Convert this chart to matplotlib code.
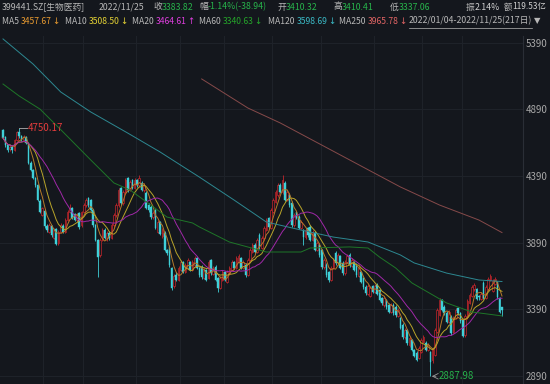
import numpy as np
import pandas as pd
import matplotlib
matplotlib.use("Agg")
import matplotlib.pyplot as plt
from matplotlib.lines import Line2D

plt.rcParams['font.family'] = ['Noto Sans CJK SC', 'DejaVu Sans']

# daily OHLC, 399441.SZ 2022/01/04 - 2022/11/25 (217 days)
opens = [4735, 4680, 4620, 4590, 4605, 4585, 4660, 4718, 4690, 4660,
         4680, 4638, 4490, 4435, 4375, 4320, 4205, 4100, 4130, 4015,
         3970, 4015, 3925, 3990, 3888, 3970, 4015, 3970, 4060, 4120,
         4150, 4105, 4060, 4112, 4022, 4120, 4172, 4225, 4210, 4135,
         4022, 3910, 3798, 3910, 3985, 3925, 3962, 3925, 4022, 4098,
         4172, 4300, 4188, 4270, 4375, 4285, 4360, 4300, 4360, 4322,
         4337, 4285, 4262, 4172, 4157, 4082, 4135, 3970, 4045, 3940,
         3962, 3835, 3857, 3700, 3565, 3648, 3610, 3685, 3745, 3670,
         3700, 3745, 3685, 3722, 3775, 3700, 3708, 3625, 3685, 3625,
         3760, 3655, 3708, 3625, 3550, 3610, 3670, 3595, 3655, 3685,
         3745, 3700, 3745, 3775, 3700, 3722, 3648, 3760, 3820, 3872,
         3820, 3948, 3850, 3925, 3985, 4075, 4000, 4120, 4195, 4248,
         4322, 4270, 4338, 4210, 4248, 4188, 4022, 4120, 4082, 4000,
         3985, 3932, 4000, 4008, 3910, 3962, 3835, 3872, 3835, 3708,
         3722, 3670, 3610, 3700, 3812, 3738, 3790, 3738, 3662, 3745,
         3798, 3715, 3745, 3722, 3640, 3670, 3625, 3558, 3505, 3490,
         3565, 3520, 3572, 3535, 3475, 3422, 3460, 3422, 3370, 3422,
         3408, 3340, 3325, 3272, 3182, 3235, 3122, 3160, 3085, 3062,
         3025, 3070, 3145, 3138, 3085, 3070, 3010, 3047, 3220, 3348,
         3460, 3408, 3362, 3295, 3332, 3220, 3325, 3400, 3360, 3310,
         3195, 3330, 3440, 3490, 3540, 3540, 3490, 3470, 3588, 3475,
         3545, 3610, 3530, 3580, 3595, 3475, 3410.32]
highs = [4745, 4690, 4630, 4620, 4615, 4670, 4730, 4750.17, 4700, 4695,
         4690, 4645, 4500, 4445, 4385, 4330, 4215, 4160, 4140, 4030,
         4035, 4025, 4000, 4000, 3985, 4035, 4030, 4075, 4135, 4180,
         4160, 4115, 4110, 4120, 4130, 4185, 4225, 4235, 4220, 4145,
         4030, 3920, 3925, 4000, 4000, 3975, 3975, 4035, 4110, 4185,
         4300, 4310, 4285, 4375, 4385, 4360, 4370, 4375, 4370, 4395,
         4350, 4335, 4275, 4185, 4170, 4125, 4145, 4060, 4055, 4000,
         3975, 3845, 3870, 3710, 3655, 3670, 3715, 3760, 3755, 3735,
         3775, 3755, 3760, 3790, 3785, 3710, 3720, 3700, 3695, 3760,
         3770, 3715, 3720, 3635, 3640, 3685, 3680, 3685, 3715, 3760,
         3755, 3790, 3805, 3785, 3760, 3735, 3775, 3850, 3885, 3885,
         3925, 3960, 3940, 4015, 4075, 4085, 4150, 4225, 4285, 4340,
         4335, 4400, 4350, 4285, 4260, 4200, 4110, 4130, 4095, 4060,
         3995, 4000, 4010, 4020, 3985, 3975, 3900, 3885, 3845, 3775,
         3735, 3680, 3715, 3775, 3825, 3810, 3800, 3750, 3760, 3805,
         3810, 3775, 3755, 3735, 3715, 3680, 3635, 3570, 3580, 3565,
         3575, 3580, 3585, 3545, 3485, 3490, 3470, 3435, 3435, 3435,
         3420, 3400, 3335, 3285, 3250, 3245, 3190, 3170, 3095, 3075,
         3115, 3175, 3195, 3150, 3135, 3080, 3100, 3250, 3400, 3475,
         3470, 3420, 3375, 3385, 3345, 3340, 3400, 3410, 3370, 3320,
         3355, 3465, 3515, 3570, 3585, 3550, 3500, 3520, 3600, 3570,
         3635, 3655, 3615, 3630, 3605, 3485, 3410.41]
lows = [4665, 4610, 4570, 4575, 4560, 4580, 4650, 4675, 4650, 4650,
        4630, 4480, 4425, 4365, 4310, 4200, 4110, 4090, 4000, 3970,
        3960, 3935, 3915, 3870, 3875, 3960, 3960, 3960, 4050, 4110,
        4065, 4050, 4045, 3995, 4010, 4110, 4160, 4160, 4125, 4010,
        3900, 3632, 3785, 3900, 3915, 3900, 3910, 3915, 4010, 4085,
        4160, 4175, 4175, 4255, 4270, 4275, 4290, 4290, 4310, 4310,
        4275, 4270, 4140, 4120, 4070, 4070, 3990, 3960, 3945, 3925,
        3825, 3800, 3710, 3535, 3550, 3600, 3600, 3675, 3660, 3660,
        3690, 3675, 3675, 3710, 3690, 3635, 3620, 3615, 3600, 3615,
        3650, 3645, 3600, 3520, 3540, 3600, 3600, 3585, 3645, 3675,
        3690, 3690, 3735, 3690, 3690, 3635, 3640, 3750, 3810, 3810,
        3810, 3845, 3840, 3915, 3975, 3995, 3990, 4110, 4185, 4235,
        4260, 4255, 4200, 4200, 4160, 4010, 4010, 4065, 3990, 3990,
        3872, 3920, 3935, 3900, 3900, 3825, 3825, 3785, 3695, 3695,
        3635, 3595, 3600, 3690, 3725, 3725, 3690, 3650, 3650, 3735,
        3710, 3705, 3675, 3635, 3630, 3585, 3545, 3500, 3495, 3480,
        3510, 3510, 3495, 3450, 3425, 3410, 3395, 3360, 3360, 3350,
        3335, 3330, 3240, 3170, 3170, 3125, 3110, 3075, 3030, 3000,
        3015, 3060, 3135, 3075, 3075, 2887.98, 2990, 3040, 3210, 3340,
        3375, 3350, 3285, 3285, 3200, 3210, 3315, 3345, 3290, 3180,
        3185, 3320, 3430, 3480, 3530, 3460, 3460, 3460, 3465, 3465,
        3535, 3600, 3520, 3570, 3470, 3360, 3337.06]
closes = [4675, 4622, 4585, 4608, 4585, 4660, 4720, 4690, 4660, 4683,
          4638, 4488, 4435, 4375, 4322, 4210, 4120, 4150, 4015, 3985,
          4022, 3948, 3985, 3880, 3970, 4022, 3970, 4060, 4120, 4150,
          4075, 4060, 4098, 4008, 4120, 4172, 4210, 4172, 4135, 4022,
          3910, 3782, 3910, 3985, 3925, 3960, 3925, 4022, 4098, 4172,
          4285, 4188, 4270, 4360, 4285, 4345, 4300, 4360, 4322, 4375,
          4285, 4322, 4150, 4135, 4082, 4112, 4000, 4045, 3955, 3985,
          3835, 3812, 3722, 3550, 3640, 3610, 3700, 3745, 3670, 3722,
          3760, 3685, 3745, 3775, 3700, 3648, 3632, 3685, 3610, 3745,
          3662, 3700, 3610, 3550, 3625, 3670, 3610, 3670, 3700, 3745,
          3700, 3775, 3790, 3700, 3745, 3648, 3760, 3835, 3872, 3820,
          3910, 3858, 3925, 4000, 4060, 4008, 4135, 4210, 4270, 4322,
          4270, 4360, 4210, 4270, 4172, 4022, 4098, 4075, 4000, 4045,
          3932, 3985, 3948, 3910, 3970, 3835, 3888, 3798, 3708, 3760,
          3648, 3610, 3700, 3760, 3738, 3798, 3700, 3662, 3745, 3790,
          3722, 3760, 3685, 3648, 3700, 3595, 3558, 3512, 3565, 3550,
          3520, 3565, 3505, 3460, 3438, 3475, 3408, 3370, 3422, 3362,
          3348, 3385, 3250, 3182, 3235, 3138, 3175, 3085, 3040, 3010,
          3100, 3160, 3182, 3085, 3122, 2995, 3085, 3235, 3385, 3460,
          3385, 3362, 3295, 3370, 3212, 3325, 3385, 3360, 3300, 3190,
          3340, 3450, 3500, 3555, 3570, 3470, 3480, 3505, 3475, 3555,
          3620, 3640, 3600, 3615, 3480, 3372, 3383.82]

# first trading day of each month (Feb..Nov), used for the vertical grid
month_starts = [18, 35, 58, 77, 96, 117, 138, 161, 182, 199]

# long moving averages at a few points
ma60_idx = [0, 7, 16, 26, 38, 48, 55, 64, 71, 82, 85, 98, 114, 129, 133, 150, 158, 163, 170, 177, 192, 203, 216]
ma60_val = [5080, 4990, 4892, 4720, 4510, 4338, 4285, 4172, 4082, 4038, 4008, 3895, 3820, 3820, 3850, 3858,
            3850, 3782, 3700, 3588, 3438, 3370, 3340.63]
ma120_idx = [0, 13, 25, 38, 54, 68, 85, 100, 114, 129, 143, 158, 172, 178, 192, 206, 216]
ma120_val = [5418, 5230, 5020, 4870, 4712, 4570, 4382, 4210, 4045, 3985, 3932, 3895, 3798, 3738, 3662, 3610, 3598.69]
ma250_idx = [86, 106, 120, 142, 172, 189, 206, 216]
ma250_val = [5118, 4900, 4788, 4585, 4308, 4172, 4060, 3965.78]

yticks = [2890, 3390, 3890, 4390, 4890, 5390]

bg = '#14171d'
up_col = '#c4262c'
down_col = '#3fd0d8'
gray = '#b8b8b8'
green = '#27b34b'

df = pd.DataFrame({'open': opens, 'high': highs, 'low': lows, 'close': closes})
x = np.arange(len(df))
for n in (5, 10, 20):
    df['ma%d' % n] = df['close'].rolling(n, min_periods=1).mean()

fig = plt.figure(figsize=(5.5, 3.84), dpi=100)
fig.patch.set_facecolor(bg)
ax = fig.add_axes([0, 0, 523 / 550, 348 / 384])
ax.set_facecolor(bg)
ax.set_xlim(-1.3, 225.1)
ax.set_ylim(2830, 5440)

# grid
ax.set_yticks(yticks)
ax.set_xticks(np.array(month_starts) - 0.5)
ax.grid(True, color='#1f232a', lw=0.7)
ax.set_axisbelow(True)
ax.yaxis.tick_right()
ax.tick_params(axis='y', length=0, pad=2, labelcolor='#a8a8a8', labelsize=7)
ax.tick_params(axis='x', length=0, labelbottom=False)
for s in ['top', 'left', 'bottom']:
    ax.spines[s].set_visible(False)
ax.spines['right'].set_color('#2a2e36')
ax.spines['right'].set_linewidth(0.8)

# candles
up = df['close'] >= df['open']
dn = ~up
ax.vlines(x[up], df['low'][up], df['high'][up], color=up_col, lw=0.6, zorder=2)
ax.vlines(x[dn], df['low'][dn], df['high'][dn], color=down_col, lw=0.6, zorder=2)
body = (df['close'] - df['open']).abs().clip(lower=4)
bottom = df[['open', 'close']].min(axis=1)
ax.bar(x[up], body[up], bottom=bottom[up], width=0.7, facecolor=bg,
       edgecolor=up_col, linewidth=0.5, zorder=3)
ax.bar(x[dn], body[dn], bottom=bottom[dn], width=0.7, facecolor=down_col,
       edgecolor=down_col, linewidth=0.3, zorder=3)

# moving averages
ax.plot(x, df['ma5'], color='#b57a2a', lw=0.7, zorder=4)
ax.plot(x, df['ma10'], color='#b8a42a', lw=0.7, zorder=4)
ax.plot(x, df['ma20'], color='#a028a8', lw=0.7, zorder=4)
ax.plot(ma60_idx, ma60_val, color='#1e7628', lw=0.7, zorder=4)
ax.plot(ma120_idx, ma120_val, color='#2d8891', lw=0.7, zorder=4)
ax.plot(ma250_idx, ma250_val, color='#864a4a', lw=0.7, zorder=4)

# max / min markers
imax = int(np.argmax(highs))
imin = int(np.argmin(lows))
ax.plot([imax, imax + 3.6], [highs[imax], highs[imax]], color='#9a9a9a', lw=0.7, zorder=5)
ax.text(imax + 3.8, highs[imax], '%.2f' % highs[imax], color='#e23c3c', fontsize=7,
        va='center', ha='left', zorder=6)
ax.annotate('', xy=(imin - 0.6, lows[imin]), xytext=(imin + 3.6, lows[imin]),
            arrowprops=dict(arrowstyle='->', color='#9a9a9a', lw=0.6), zorder=5)
ax.text(imin + 3.8, lows[imin], '%.2f' % lows[imin], color=green, fontsize=7,
        va='center', ha='left', zorder=6)

renderer = fig.canvas.get_renderer()


def seq(px, py, parts, size):
    # draw pieces one after another, starting at pixel px
    cur = px
    for s, c, fam in parts:
        kw = {'family': fam} if fam else {}
        t = fig.text(cur / 550, 1 - py / 384, s, color=c, fontsize=size,
                     va='center', ha='left', **kw)
        cur = t.get_window_extent(renderer).x1 + 0.3
    return cur


# header row 1
r1 = 6.3
seq(2, 7, [('399441.SZ[生物医药]', gray, None)], r1)
seq(99, 7, [('2022/11/25', gray, None)], r1)
seq(153, 7, [('收', gray, None), ('3383.82', green, None)], r1)
seq(199, 7, [('幅', gray, None), ('-1.14%(-38.94)', green, None)], r1)
seq(277, 7, [('开', gray, None), ('3410.32', green, None)], r1)
seq(333, 7, [('高', gray, None), ('3410.41', green, None)], r1)
seq(390, 7, [('低', gray, None), ('3337.06', green, None)], r1)
end = seq(466, 7, [('振', gray, None), ('2.14%', '#d0d0d0', None)], r1)
seq(end + 3, 7, [('额', gray, None), ('119.53亿', '#d0d0d0', None)], 6.0)

# header row 2: MA values
ma_labels = ['MA5', 'MA10', 'MA20', 'MA60', 'MA120', 'MA250']
ma_texts = ['3457.67', '3508.50', '3464.61', '3340.63', '3598.69', '3965.78']
ma_arrows = ['↓', '↓', '↑', '↓', '↓', '↓']
ma_cols = ['#e89a30', '#e2d034', '#de3ede', '#25a52a', '#3ab8c4', '#e06464']
lab_x = [2, 65, 132, 199, 268, 339]
r2 = 6.2
for i in range(6):
    seq(lab_x[i], 21, [(ma_labels[i] + ' ', gray, None),
                       (ma_texts[i], ma_cols[i], None),
                       (ma_arrows[i], ma_cols[i], 'DejaVu Sans')], r2)
end = seq(409, 21, [('2022/01/04-2022/11/25(217日)', gray, None)], 6.3)
fig.add_artist(Line2D([409 / 550, (end - 0.3) / 550], [1 - 27.5 / 384, 1 - 27.5 / 384],
                      color=gray, lw=0.5))
seq(end + 1.5, 21, [('▼', gray, 'DejaVu Sans')], 6)

fig.savefig('out.png', dpi=100, facecolor=bg)
